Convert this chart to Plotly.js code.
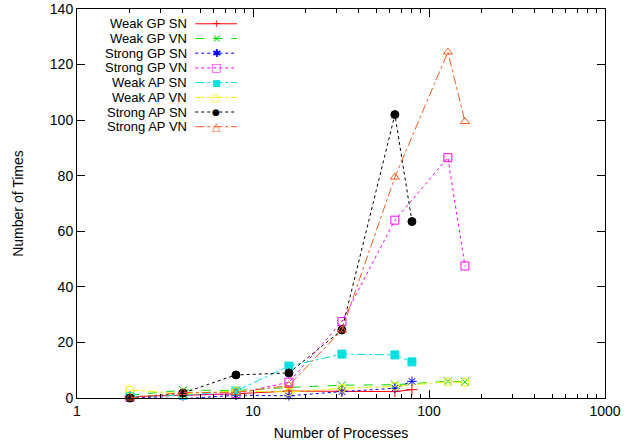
<!DOCTYPE html>
<html><head><meta charset="utf-8">
<script src="https://cdn.plot.ly/plotly-3.0.1.min.js"></script>
<style>body{margin:0;background:#fff}#chart{width:642px;height:442px}</style>
</head><body><div id="chart"></div>
<script>
const seriesNames = ["Weak GP SN","Weak GP VN","Strong GP SN","Strong GP VN","Weak AP SN","Weak AP VN","Strong AP SN","Strong AP VN"];
const procsSN = [2,4,8,16,32,64,80];
const procsVN = [2,4,8,16,32,64,128,160];
const weakGpSN   = [0.5,1,1.5,2.5,2.5,2.3,3];
const weakGpVN   = [1,2.8,2.7,3.8,4.6,4.8,6,5.8];
const strongGpSN = [0.3,-0.3,1,0.8,2.3,3.5,6];
const strongGpVN = [0.2,1,1.5,5.7,27.5,64,86.5,47.5];
const weakApSN   = [0.5,1,2.5,11.5,15.8,15.5,13];
const weakApVN   = [2.9,1.5,2.5,2.2,3.5,4.2,5.8,5.6];
const strongApSN = [0,1.8,8.3,9,24.5,102,63.5];
const strongApVN = [0,2,2,4.5,24.5,79.5,124.5,99.5];
const xTickVals = [1,10,100,1000];
const xTickText = ['1','10','100','1000'];
const xMinorVals = [2,3,4,5,6,7,8,9,20,30,40,50,60,70,80,90,200,300,400,500,600,700,800,900];

const colors = ["#ff0000","#00e000","#0000ff","#ff00ff","#00e0e0","#f0f000","#000000","#ff5a20"];
const dashes = ["solid","dash","dot","dot","dashdot","dashdot","dot","dashdot"];
const symbols = ["cross-thin-open","x-thin-open","asterisk-open","square-open","square","circle-open","circle","triangle-up-open"];
const legendGlyphs = ["+","\u00d7","\u2731","\u25a1","\u25a0","\u25cb","\u25cf","\u25b3"];
const xs = [procsSN,procsVN,procsSN,procsVN,procsSN,procsVN,procsSN,procsVN];
const ys = [weakGpSN,weakGpVN,strongGpSN,strongGpVN,weakApSN,weakApVN,strongApSN,strongApVN];

const traces = seriesNames.map((n,i)=>({
  x: xs[i], y: ys[i], name: n, type:'scatter', mode:'lines+markers',
  line:{color:colors[i], dash:dashes[i], width:1},
  marker:{symbol:symbols[i], color:colors[i], size:8, line:{color:colors[i], width:1}},
  cliponaxis:false
}));

// gnuplot-style key: right-aligned text, then a line sample with marker
const keyTextX = 0.21, keyLineX0 = 0.224, keyLineX1 = 0.303, keyTop = 0.962, keyStep = 0.0378;
const annotations = [], shapes = [];
seriesNames.forEach((n,i)=>{
  const yy = keyTop - i*keyStep;
  annotations.push({xref:'paper', yref:'paper', x:keyTextX, y:yy, xanchor:'right', yanchor:'middle',
    text:n, showarrow:false, borderpad:0, font:{size:13, color:'#000'}});
  shapes.push({type:'line', xref:'paper', yref:'paper', x0:keyLineX0, x1:keyLineX1, y0:yy, y1:yy,
    line:{color:colors[i], dash:dashes[i], width:1}});
  annotations.push({xref:'paper', yref:'paper', x:(keyLineX0+keyLineX1)/2, y:yy, xanchor:'center', yanchor:'middle',
    text:legendGlyphs[i], showarrow:false, borderpad:0,
    font:{size:i===4||i===6?9:11, color:colors[i], family:'DejaVu Sans'}});
});

const layout = {
  width:642, height:442,
  margin:{l:77, r:37, t:9, b:44},
  paper_bgcolor:'#fff', plot_bgcolor:'#fff',
  font:{family:'"Liberation Sans", Arial, sans-serif', size:14, color:'#000'},
  showlegend:false,
  annotations, shapes,
  xaxis:{type:'log', range:[0,3], tickvals:xTickVals, ticktext:xTickText,
    ticks:'inside', ticklen:8, tickcolor:'#000', showline:true, linecolor:'#000', linewidth:1, mirror:'ticks',
    showgrid:false, zeroline:false,
    minor:{tickvals:xMinorVals, ticks:'inside', ticklen:4, tickcolor:'#000', showgrid:false},
    title:{text:'Number of Processes', font:{size:14}, standoff:10}},
  yaxis:{range:[0,140], dtick:20, ticks:'inside', ticklen:8, tickcolor:'#000', showline:true, linecolor:'#000', linewidth:1, mirror:'ticks',
    showgrid:false, zeroline:false,
    title:{text:'Number of Times', font:{size:14}, standoff:22}}
};
Plotly.newPlot('chart', traces, layout, {staticPlot:true});
</script></body></html>
